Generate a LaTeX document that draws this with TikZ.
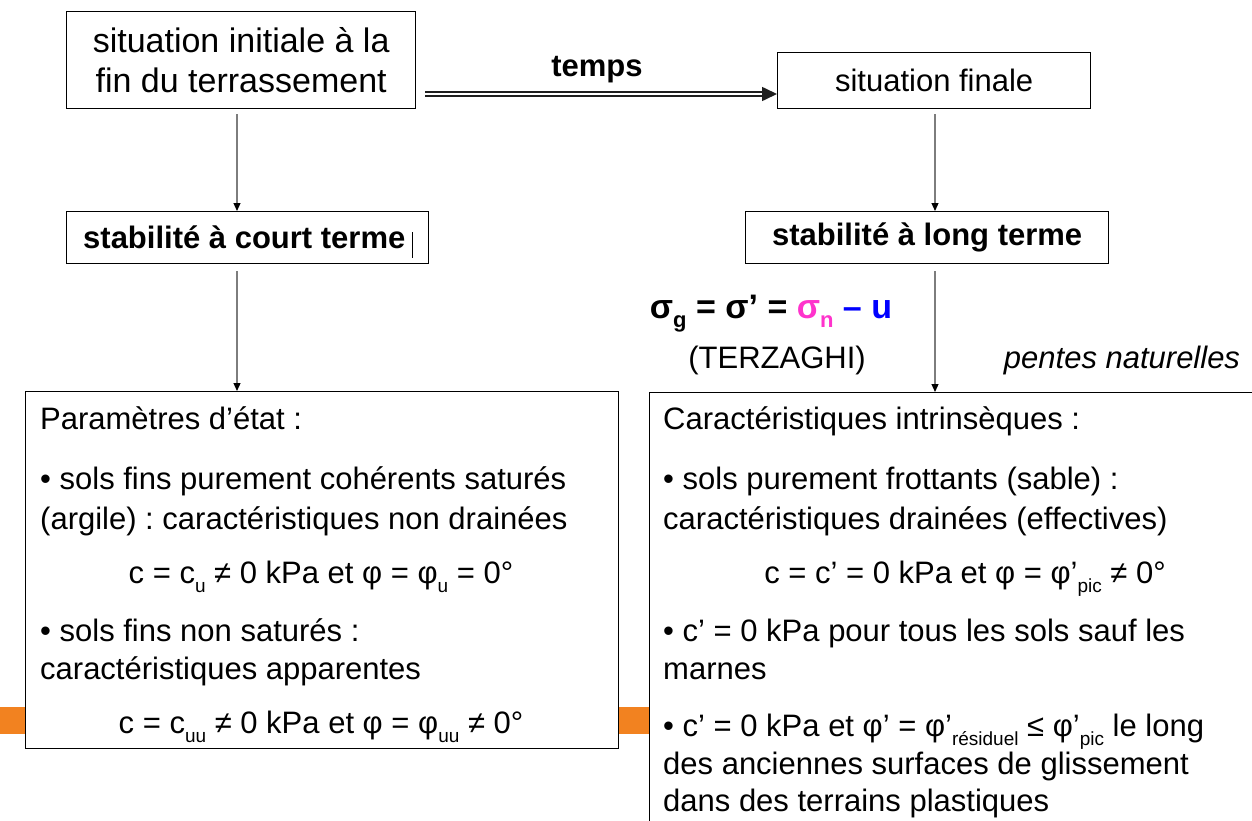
\documentclass[tikz,border=0pt]{standalone}
\usepackage{fontspec}
\setmainfont{Liberation Sans}
\usetikzlibrary{arrows.meta}
\definecolor{orng}{RGB}{242,130,32}
\definecolor{mag}{RGB}{255,51,204}
\definecolor{blu}{RGB}{0,0,255}
\definecolor{arrgray}{RGB}{125,125,125}
\definecolor{dgray}{RGB}{30,30,30}
\newcommand{\sbs}[1]{\raisebox{-0.3em}{\fontsize{19}{19}\selectfont #1}}
\newcommand{\sbf}[1]{\raisebox{-0.28em}{\fontsize{22}{22}\selectfont #1}}
\frenchspacing
\begin{document}
\begin{tikzpicture}[x=1pt,y=-1pt,
  box/.style={draw=black, line width=1.3pt, fill=white, inner sep=0pt, anchor=north west},
  conn/.style={draw=arrgray, line width=1.2pt, -{Triangle[length=8pt,width=7pt,fill=black,color=black]}},
  body/.style={anchor=base west, inner sep=0pt, font=\fontsize{31}{36}\selectfont},
  bodyc/.style={anchor=base, inner sep=0pt, font=\fontsize{31}{36}\selectfont},
  boldtxt/.style={font=\bfseries\fontsize{31}{36}\selectfont}
]
\useasboundingbox (0,0) rectangle (1252,821);
\clip (0,0) rectangle (1252,821);
\fill[white] (0,0) rectangle (1252,821);
% orange band behind
\fill[orng] (0,707) rectangle (649,734);

% top boxes
\node[box, font=\fontsize{34}{40}\selectfont, minimum width=349pt, minimum height=97pt, align=center] (b1) at (66,11) {situation initiale à la\\[0pt]fin du terrassement};
\node[box, font=\fontsize{31}{36}\selectfont, minimum width=313pt, minimum height=56pt] (b2) at (777,52) {situation finale};
\node[anchor=base, inner sep=0pt, boldtxt] (tps) at (597,77) {temps};
\coordinate (ts) at (425,94);
\draw[dgray, double=white, double distance=2pt, line width=1.6pt, -{Triangle[length=15pt,width=14pt]}] (ts) -- (b2.west |- ts);

% stability boxes
\node[box, minimum width=362pt, minimum height=52pt] (b3) at (66,211) {};
\node[anchor=base west, inner sep=0pt, boldtxt] (t3) at (83,248) {stabilité à court terme};
\draw[black, line width=1pt] (412,232) -- (412,258);
\node[box, boldtxt, minimum width=363pt, minimum height=52pt] (b4) at (745,211) {stabilité à long terme};

\coordinate (ax) at (237,0);
\coordinate (bx) at (935,0);
\draw[conn] ([yshift=-5pt]b1.south -| ax) -- (b3.north -| ax);
\draw[conn] ([yshift=-5pt]b2.south -| bx) -- (b4.north -| bx);

% big boxes
\node[box, minimum width=593pt, minimum height=357pt] (b5) at (25,391) {};
\node[box, minimum width=640pt, minimum height=460pt] (b6) at (649,392) {};
\draw[conn] ([yshift=-7pt]b3.south -| ax) -- (b5.north -| ax);
\draw[conn] ([yshift=-7pt]b4.south -| bx) -- (b6.north -| bx);

% formula and labels
\node[anchor=base, inner sep=0pt, font=\bfseries\fontsize{34}{40}\selectfont] (f) at (771,318) {σ\sbf{g} = σ’ = \textcolor{mag}{σ\sbf{n}} \textcolor{blu}{– u}};
\node[anchor=base, inner sep=0pt, font=\fontsize{31}{36}\selectfont] (tz) at (777,368) {(TERZAGHI)};
\node[anchor=base, inner sep=0pt, font=\itshape\fontsize{31}{36}\selectfont] (pn) at (1122,368) {pentes naturelles};

% left box text
\node[body] (l1) at (40,429) {Paramètres d’état :};
\node[body] (l2) at (40,489) {• sols fins purement cohérents saturés};
\node[body] (l3) at (40,529) {(argile) : caractéristiques non drainées};
\node[bodyc] (l4) at (321,583) {c = c\sbs{u} ≠ 0 kPa et φ = φ\sbs{u} = 0°};
\node[body] (l5) at (40,641) {• sols fins non saturés :};
\node[body] (l6) at (40,679) {caractéristiques apparentes};
\node[bodyc] (l7) at (321,733) {c = c\sbs{uu} ≠ 0 kPa et φ = φ\sbs{uu} ≠ 0°};

% right box text
\node[body] (r1) at (663,429) {Caractéristiques intrinsèques :};
\node[body] (r2) at (663,489) {• sols purement frottants (sable) :};
\node[body] (r3) at (663,529) {caractéristiques drainées (effectives)};
\node[bodyc] (r4) at (965,583) {c = c’ = 0 kPa et φ = φ’\sbs{pic} ≠ 0°};
\node[body] (r5) at (663,641) {• c’ = 0 kPa pour tous les sols sauf les};
\node[body] (r6) at (663,679) {marnes};
\node[body] (r7) at (663,736) {• c’ = 0 kPa et φ’ = φ’\sbs{résiduel} ≤ φ’\sbs{pic} le long};
\node[body] (r8) at (663,774) {des anciennes surfaces de glissement};
\node[body] (r9) at (663,811) {dans des terrains plastiques};
\end{tikzpicture}
\end{document}
